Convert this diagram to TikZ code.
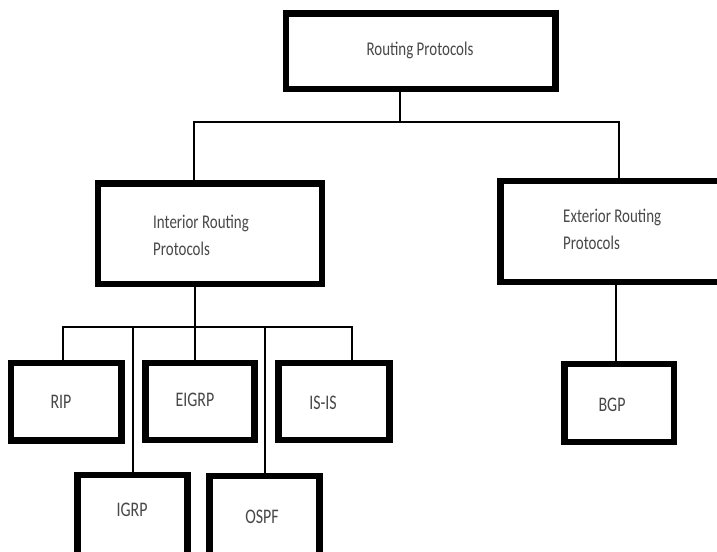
\documentclass[tikz,border=0pt]{standalone}
\usepackage{fontspec}
\setmainfont{Carlito}
\definecolor{txtgray}{RGB}{72,72,72}
\tikzset{
  box/.style={draw=black, line width=6.5bp, rectangle, inner sep=0pt, outer sep=0pt, fill=white},
  conn/.style={draw=black, line width=2.5bp},
  lbl/.style={text=txtgray, inner sep=0pt, font=\fontsize{16}{20}\selectfont},
  biglbl/.style={text=txtgray, inner sep=0pt, align=left, font=\fontsize{15}{20.8}\selectfont},
}
\newcommand{\vst}[1]{\scalebox{1}[1.3]{#1}}
\begin{document}
\begin{tikzpicture}[x=1bp,y=-1bp]
\useasboundingbox (0,0) rectangle (717,552);
\clip (0,0) rectangle (717,552);
\fill[white] (0,0) rectangle (717,552);
% boxes
\node[box, minimum width=269.5bp, minimum height=75.5bp] (top) at (420.75,51.25) {};
\node[box, minimum width=224bp, minimum height=100.5bp] (interior) at (210,233.75) {};
\node[box, minimum width=239.5bp, minimum height=101bp] (exterior) at (620.25,231.5) {};
\node[box, minimum width=110.5bp, minimum height=77.5bp] (rip) at (66.25,401.75) {};
\node[box, minimum width=109bp, minimum height=77bp] (eigrp) at (200,401.5) {};
\node[box, minimum width=111bp, minimum height=77bp] (isis) at (334,401.5) {};
\node[box, minimum width=110bp, minimum height=80bp] (igrp) at (132.5,515) {};
\node[box, minimum width=110bp, minimum height=80bp] (ospf) at (264.5,516) {};
\node[box, minimum width=109.5bp, minimum height=78bp] (bgp) at (619.25,403) {};
% labels
\node[lbl] (toplbl) at (420,50) {\vst{\fontsize{15}{18}\selectfont Routing Protocols}};
\node[biglbl, anchor=west] (intlbl) at (153,236.5) {\vst{\begin{tabular}{@{}l@{}}Interior Routing\\Protocols\end{tabular}}};
\node[biglbl, anchor=west] (extlbl) at (563,231) {\vst{\begin{tabular}{@{}l@{}}Exterior Routing\\Protocols\end{tabular}}};
\node[lbl] (riplbl) at (61,402) {\vst{RIP}};
\node[lbl] (eigrplbl) at (195,400) {\vst{EIGRP}};
\node[lbl] (isislbl) at (323,403) {\vst{IS-IS}};
\node[lbl] (igrplbl) at (132,510) {\vst{IGRP}};
\node[lbl] (ospflbl) at (262,517) {\vst{OSPF}};
\node[lbl] (bgplbl) at (612,405) {\vst{BGP}};
% junction coordinates
\coordinate (j1) at (400,122);
\coordinate (bl) at (194,122);
\coordinate (br) at (619,122);
\coordinate (k) at (195,327);
\coordinate (kl) at (63,327);
\coordinate (k2) at (133,327);
\coordinate (k4) at (265,327);
\coordinate (kr) at (352,327);
\coordinate (e) at (616,400);
% connectors
\draw[conn] (top.south -| j1) -- (j1);
\draw[conn] (bl |- interior.north) -- (bl) -- (br) -- (br |- exterior.north);
\draw[conn] (interior.south -| k) -- (k);
\draw[conn] (kl |- rip.north) -- (kl) -- (kr) -- (kr |- isis.north);
\draw[conn] (k) -- (k |- eigrp.north);
\draw[conn] (k2) -- (k2 |- igrp.north);
\draw[conn] (k4) -- (k4 |- ospf.north);
\draw[conn] (exterior.south -| e) -- (e |- bgp.north);
\end{tikzpicture}
\end{document}
